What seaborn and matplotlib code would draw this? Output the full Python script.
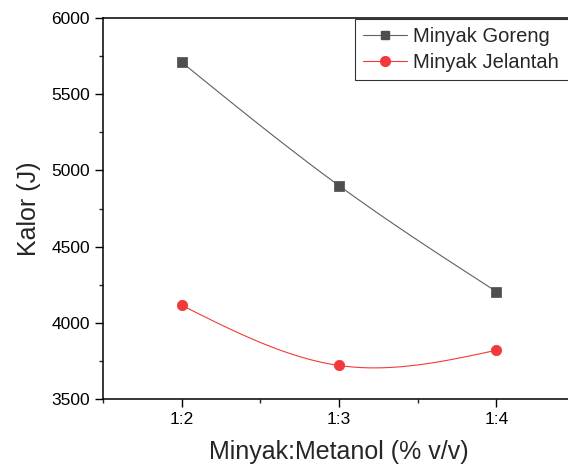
import matplotlib
matplotlib.use('Agg')
import matplotlib.pyplot as plt
from matplotlib.lines import Line2D
from matplotlib.ticker import MultipleLocator, AutoMinorLocator
import numpy as np
import pandas as pd
import seaborn as sns

rasio = ['1:2', '1:3', '1:4']
goreng = [5710, 4900, 4205]
jelantah = [4115, 3720, 3820]

sns.set_style('ticks')
plt.rcParams['font.family'] = ['Liberation Sans', 'DejaVu Sans']


def spline(y, n=60):
    # natural cubic spline for 3 equally spaced points (like Origin's spline connect)
    y0, y1, y2 = y
    m = [0.0, 1.5 * (y0 - 2 * y1 + y2), 0.0]
    xs, ys = [], []
    for i in range(2):
        t = np.linspace(0, 1, n)
        s = (m[i] * (1 - t) ** 3 / 6 + m[i + 1] * t ** 3 / 6
             + (y[i] - m[i] / 6) * (1 - t) + (y[i + 1] - m[i + 1] / 6) * t)
        xs.extend(i + t)
        ys.extend(s)
    return np.array(xs), np.array(ys)


x = np.arange(len(rasio))
df = pd.DataFrame({'x': x, 'Minyak Goreng': goreng, 'Minyak Jelantah': jelantah})

abu = '#4f4f4f'
merah = '#f23a3a'

fig = plt.figure(figsize=(5.68, 4.68), dpi=100)
ax = fig.add_axes([103 / 568, 1 - 399 / 468, 472 / 568, 381 / 468])

gx, gy = spline(goreng)
rx, ry = spline(jelantah)
sns.lineplot(x=gx, y=gy, ax=ax, color='#606060', lw=0.8, sort=False)
sns.lineplot(x=rx, y=ry, ax=ax, color=merah, lw=0.8, sort=False)
sns.scatterplot(data=df, x='x', y='Minyak Goreng', ax=ax, marker='s', s=42,
                color=abu, edgecolor=abu, zorder=3)
sns.scatterplot(data=df, x='x', y='Minyak Jelantah', ax=ax, marker='o', s=55,
                color=merah, edgecolor=merah, zorder=3)

ax.set_xlim(-0.5, 2.5)
ax.set_ylim(3500, 6000)
ax.set_xticks(x)
ax.set_xticklabels(rasio)
ax.xaxis.set_minor_locator(MultipleLocator(0.5))
ax.yaxis.set_major_locator(MultipleLocator(500))
ax.yaxis.set_minor_locator(AutoMinorLocator(2))
ax.tick_params(which='major', direction='out', length=5.5, width=1, labelsize=12.5,
               colors='black', pad=4)
ax.tick_params(which='minor', direction='out', length=3, width=1)
for s in ['left', 'bottom', 'top']:
    ax.spines[s].set_linewidth(1.1)
    ax.spines[s].set_color('black')
ax.spines['right'].set_visible(False)

ax.set_xlabel('Minyak:Metanol (% v/v)', fontsize=18, labelpad=9)
ax.set_ylabel('Kalor (J)', fontsize=18, labelpad=7)

handles = [
    Line2D([], [], color='#606060', lw=0.8, marker='s', ms=6, mfc=abu, mec=abu),
    Line2D([], [], color=merah, lw=0.8, marker='o', ms=7, mfc=merah, mec=merah),
]
# legend frame runs past the right edge of the picture, as in the original
leg = ax.legend(handles, ['Minyak Goreng', 'Minyak Jelantah'], loc='upper left',
                bbox_to_anchor=(0.534, 0.80, 0.5, 0.197), mode='expand',
                fontsize=14.5, frameon=True, fancybox=False,
                edgecolor='black', handlelength=2.2, handletextpad=0.3,
                borderpad=0.4, labelspacing=0.35, borderaxespad=0)
leg.get_frame().set_linewidth(0.8)

fig.savefig('out.png', dpi=100)
